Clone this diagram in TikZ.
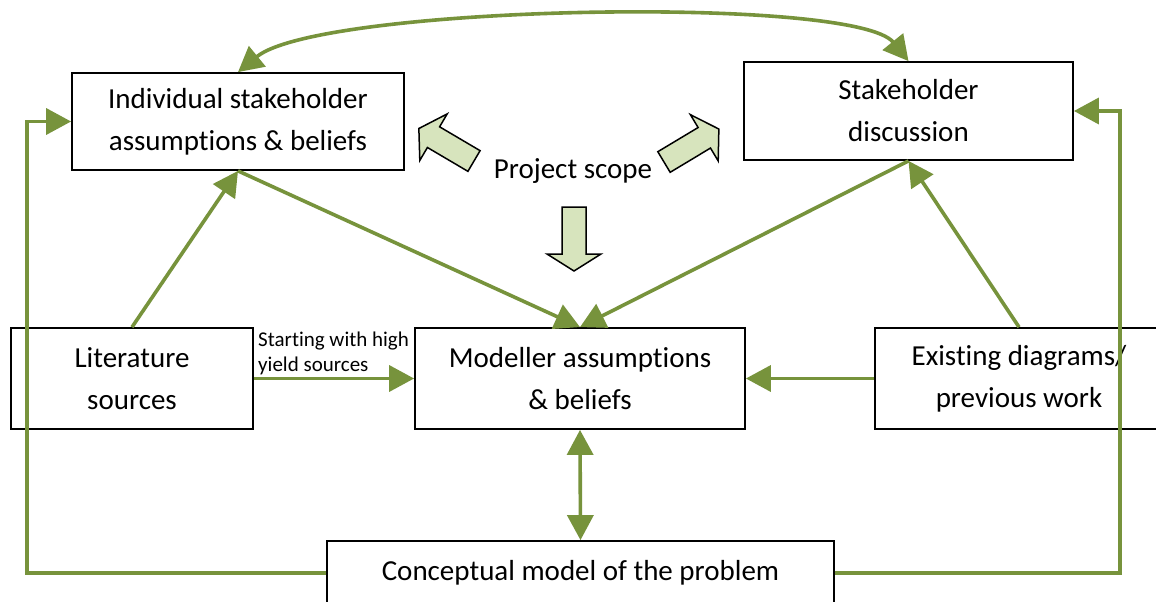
\documentclass[tikz,border=0pt]{standalone}
\usepackage{fontspec}
\setmainfont{Carlito}[RawFeature={-liga;-clig;-calt;-dlig}]
\usetikzlibrary{arrows.meta}
\definecolor{lgreen}{RGB}{119,147,60}
\definecolor{lfill}{RGB}{215,228,189}
\begin{document}
\begin{tikzpicture}[x=1pt,y=-1pt,
  box/.style={draw=black, line width=1.8pt, fill=white, align=center,
    font=\fontsize{29}{42}\selectfont, inner sep=0pt},
  tip/.tip={Triangle[length=25pt,width=26pt]},
  conn/.style={draw=lgreen, line width=3.6pt, -tip},
  dconn/.style={draw=lgreen, line width=3.6pt, tip-tip},
  blockarrow/.pic={\draw[line width=1.5pt, fill=lfill, line join=miter]
    (0pt,-12pt) -- (47pt,-12pt) -- (47pt,-27pt) -- (64pt,0pt) -- (47pt,27pt)
    -- (47pt,12pt) -- (0pt,12pt) -- cycle;}
]
\clip (0,0) rectangle (1156,602);
\fill[white] (0,0) rectangle (1156,602);

\node[box, minimum width=332pt, minimum height=97pt] (ind) at (238,121.5) {Individual stakeholder\\assumptions \& beliefs};
\node[box, minimum width=329pt, minimum height=98pt] (sh) at (908.5,111) {Stakeholder\\discussion};
\node[box, minimum width=242pt, minimum height=101pt] (lit) at (132,378.5) {Literature\\sources};
\node[box, minimum width=330pt, minimum height=101pt] (mod) at (580,378.5) {Modeller assumptions\\\& beliefs};
\node[box, minimum width=288pt, minimum height=101pt] (ex) at (1019,378.5) {Existing diagrams/\\previous work};
\node[box, minimum width=507pt, minimum height=64pt] (con) at (580.5,573) {Conceptual model of the problem};

\node[inner sep=0pt, font=\fontsize{29}{35}\selectfont] (ps) at (573,171) {Project scope};
\node[anchor=south west, inner sep=0pt, align=left, font=\fontsize{21}{25}\selectfont] (lbl) at (258,375) {Starting with high\\yield sources};

\pic[rotate=149.5] at (474,161) {blockarrow};
\pic[rotate=31] at (664,162) {blockarrow};
\pic[rotate=-90] at (574,207) {blockarrow};

\coordinate (lx) at (27,0);
\coordinate (rx) at (1120,0);

\draw[dconn] (ind.north) .. controls (320,5) and (855,-5) .. (sh.north);
\draw[conn] (lit.north) -- (ind.south);
\draw[conn] (ind.south) -- (mod.north);
\draw[conn] (sh.south) -- (mod.north);
\draw[conn] (ex.north) -- (sh.south);
\draw[conn] (lit.east) -- (mod.west);
\draw[conn] (ex.west) -- (mod.east);
\draw[dconn] (mod.south) -- (con.north);
\draw[conn] (con.west) -| (lx |- ind.west) -- (ind.west);
\draw[conn] (con.east) -| (rx |- sh.east) -- (sh.east);
\end{tikzpicture}
\end{document}
